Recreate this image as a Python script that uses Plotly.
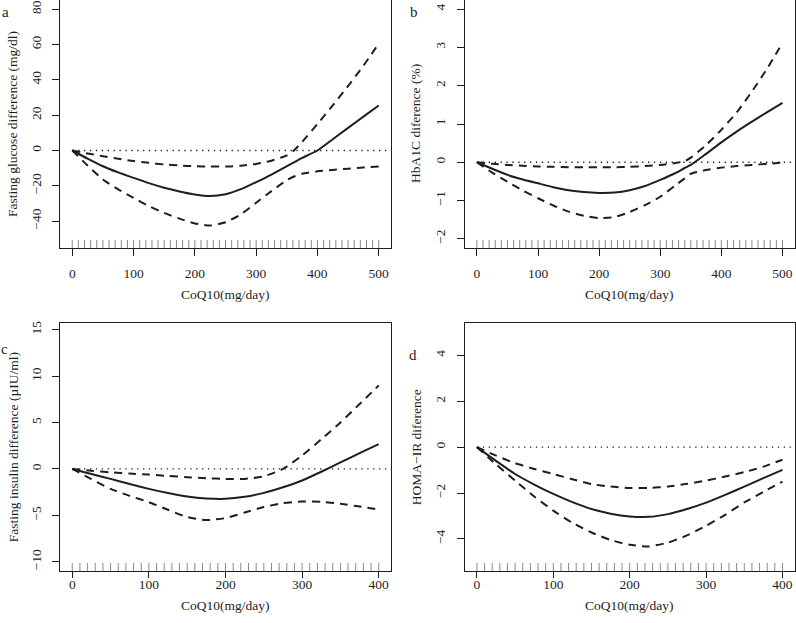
import plotly.graph_objects as go

# ---------------- data ----------------
# Panel a: Fasting glucose difference (mg/dl)
xa = [0, 25, 50, 75, 100, 125, 150, 175, 200, 225, 250, 275, 300, 325, 350, 360, 375, 400, 425, 450, 475, 500]
a_fit = [0, -4.6, -8.9, -12.4, -15.5, -18.5, -21.1, -23.2, -24.9, -25.8, -24.8, -21.9, -17.9, -13.6, -8.9, -7.0, -4.2, 0, 6.4, 12.8, 19.2, 25.5]
a_up = [0, -1.7, -3.2, -4.7, -6.0, -7.0, -7.9, -8.5, -8.9, -9.1, -9.1, -8.6, -7.6, -5.8, -2.8, -0.5, 4.8, 15.0, 25.5, 36.5, 48.0, 60.5]
a_lo = [0, -8.5, -16.4, -22.0, -26.8, -31.5, -35.3, -38.6, -41.3, -42.5, -40.6, -36.2, -29.6, -23.0, -16.8, -15.0, -13.2, -11.8, -11.0, -10.3, -9.6, -9.0]

# Panel b: HbA1C difference (%)
xb = [0, 25, 50, 75, 100, 125, 150, 175, 200, 225, 250, 275, 300, 325, 340, 350, 375, 400, 425, 450, 475, 500]
b_fit = [0, -0.17, -0.33, -0.45, -0.55, -0.65, -0.73, -0.78, -0.80, -0.79, -0.73, -0.62, -0.46, -0.28, -0.15, -0.07, 0.22, 0.52, 0.80, 1.06, 1.31, 1.55]
b_up = [0, -0.04, -0.07, -0.09, -0.11, -0.12, -0.13, -0.13, -0.13, -0.13, -0.12, -0.10, -0.07, -0.02, 0.03, 0.12, 0.45, 0.85, 1.30, 1.85, 2.45, 3.12]
b_lo = [0, -0.27, -0.51, -0.74, -0.94, -1.13, -1.29, -1.40, -1.46, -1.43, -1.30, -1.12, -0.90, -0.60, -0.42, -0.30, -0.20, -0.14, -0.10, -0.07, -0.04, -0.01]

# Panel c: Fasting insulin difference (µIU/ml)
xc = [0, 25, 50, 75, 100, 125, 150, 175, 200, 225, 250, 275, 300, 325, 350, 375, 400]
c_fit = [0, -0.55, -1.07, -1.62, -2.15, -2.60, -2.97, -3.18, -3.22, -3.00, -2.58, -1.98, -1.25, -0.30, 0.70, 1.70, 2.68]
c_up = [0, -0.20, -0.36, -0.50, -0.61, -0.75, -0.90, -1.00, -1.07, -1.07, -0.80, 0.0, 1.45, 3.20, 5.00, 7.00, 9.00]
c_lo = [0, -1.10, -2.15, -2.90, -3.58, -4.40, -5.19, -5.51, -5.30, -4.70, -4.10, -3.69, -3.51, -3.54, -3.76, -4.05, -4.37]

# Panel d: HOMA-IR difference
xd = [0, 25, 50, 75, 100, 125, 150, 175, 200, 225, 250, 275, 300, 325, 350, 375, 400]
d_fit = [0, -0.60, -1.17, -1.63, -2.04, -2.40, -2.70, -2.90, -3.02, -3.04, -2.92, -2.70, -2.42, -2.08, -1.72, -1.35, -0.99]
d_up = [0, -0.37, -0.70, -0.95, -1.17, -1.40, -1.61, -1.72, -1.78, -1.78, -1.72, -1.60, -1.46, -1.28, -1.09, -0.85, -0.55]
d_lo = [0, -0.75, -1.46, -2.15, -2.77, -3.30, -3.72, -4.05, -4.26, -4.33, -4.16, -3.85, -3.43, -2.95, -2.41, -1.95, -1.50]

# rug (observed doses)
rug_ab = [0, 10, 20, 30, 40, 50, 60, 70, 80, 90, 100, 110, 120, 130, 140, 150, 160, 170, 180, 190, 200,
          210, 220, 230, 240, 250, 260, 270, 280, 290, 300, 310, 320, 330, 340, 350, 360, 370, 380, 390, 400,
          410, 420, 430, 440, 450, 460, 470, 480, 490, 500]
rug_cd = [0, 10, 20, 30, 40, 50, 60, 70, 80, 90, 100, 110, 120, 130, 140, 150, 160, 170, 180, 190, 200,
          210, 220, 230, 240, 250, 260, 270, 280, 290, 300, 310, 320, 330, 340, 350, 360, 370, 380, 390, 400]

panel_letters = ["a", "b", "c", "d"]
y_titles = ["Fasting glucose difference (mg/dl)", "HbA1C diference (%)",
            "Fasting insulin difference (µIU/ml)", "HOMA−IR diference"]
x_title = "CoQ10(mg/day)"
x_ticks_ab = [0, 100, 200, 300, 400, 500]
x_ticks_cd = [0, 100, 200, 300, 400]
y_ticks = [[-40, -20, 0, 20, 40, 60, 80], [-2, -1, 0, 1, 2, 3, 4],
           [-10, -5, 0, 5, 10, 15], [-4, -2, 0, 2, 4]]

# ---------------- layout geometry ----------------
W, H = 796, 623
FONT = "Liberation Serif"
FS = 13.5
INK = "#1e1e1e"

x_ranges = [[-20, 520], [-20, 520], [-16, 416], [-16, 416]]
y_ranges = [[-55.2, 85.2], [-2.24, 4.24], [-11.0, 15.7], [-5.4, 5.4]]
xdom = [[60 / W, 391 / W], [464.7 / W, 794.7 / W], [60 / W, 391 / W], [464.7 / W, 794.7 / W]]
ydom = [[1 - 248 / H, 1.0], [1 - 248 / H, 1.0], [1 - 571 / H, 1 - 323.3 / H], [1 - 571 / H, 1 - 323.3 / H]]
x_standoff = [6, 6, -5, -5]
x_ticklen = [7, 7, 6, 6]

panels = [
    (xa, a_fit, a_up, a_lo, rug_ab, x_ticks_ab),
    (xb, b_fit, b_up, b_lo, rug_ab, x_ticks_ab),
    (xc, c_fit, c_up, c_lo, rug_cd, x_ticks_cd),
    (xd, d_fit, d_up, d_lo, rug_cd, x_ticks_cd),
]

fig = go.Figure()
shapes = []
annotations = []

for i, (xs, fit, up, lo, rug, xt) in enumerate(panels):
    n = i + 1
    xref = "x" if n == 1 else f"x{n}"
    yref = "y" if n == 1 else f"y{n}"
    # reference dotted line at 0
    fig.add_trace(go.Scatter(x=[0, x_ranges[i][1]], y=[0, 0], mode="lines", xaxis=xref, yaxis=yref,
                             line=dict(color=INK, width=1.3, dash="1.3px,4.6px"), showlegend=False, hoverinfo="skip"))
    for ys in (up, lo):
        fig.add_trace(go.Scatter(x=xs, y=ys, mode="lines", xaxis=xref, yaxis=yref,
                                 line=dict(color=INK, width=2, dash="8px,6px", shape="spline", smoothing=0.5),
                                 showlegend=False))
    fig.add_trace(go.Scatter(x=xs, y=fit, mode="lines", xaxis=xref, yaxis=yref,
                             line=dict(color=INK, width=2, shape="spline", smoothing=0.5), showlegend=False))
    # rug
    for r in rug:
        shapes.append(dict(type="line", xref=xref, yref=f"{yref} domain", x0=r, x1=r, y0=0, y1=8 / 248,
                           line=dict(color="#8a8a8a", width=1)))

    axkey = "xaxis" if n == 1 else f"xaxis{n}"
    aykey = "yaxis" if n == 1 else f"yaxis{n}"
    common = dict(showline=True, linecolor=INK, linewidth=1, mirror=True, showgrid=False, zeroline=False,
                  ticks="outside", tickwidth=1, tickcolor=INK, automargin=False,
                  tickfont=dict(family=FONT, size=FS, color=INK), fixedrange=True)
    fig.update_layout(**{
        axkey: dict(domain=xdom[i], range=x_ranges[i], anchor=yref, tickvals=xt, ticklen=x_ticklen[i],
                    ticklabelstandoff=x_standoff[i], **common),
        aykey: dict(domain=ydom[i], range=y_ranges[i], anchor=xref, tickvals=y_ticks[i],
                    ticktext=[str(v).replace("-", "−") for v in y_ticks[i]], ticklen=7,
                    tickangle=-90, ticklabelstandoff=6, **common),
    })

    x0p, x1p = xdom[i]
    y0p, y1p = ydom[i]
    # x title
    xt_px = 295 if i < 2 else 605
    annotations.append(dict(text=x_title, x=(x0p + x1p) / 2, y=1 - xt_px / H, xref="paper", yref="paper",
                            showarrow=False, xanchor="center", yanchor="middle",
                            font=dict(family=FONT, size=FS, color=INK)))
    # y title
    ytx_px = 13 if i % 2 == 0 else 416
    annotations.append(dict(text=y_titles[i], x=ytx_px / W, y=(y0p + y1p) / 2, xref="paper", yref="paper",
                            showarrow=False, xanchor="center", yanchor="middle", textangle=-90,
                            font=dict(family=FONT, size=FS, color=INK)))

# panel letters
letter_pos = [(5, 12), (414, 12), (4, 349), (413, 355)]
for (lx, ly), lt in zip(letter_pos, panel_letters):
    annotations.append(dict(text=lt, x=lx / W, y=1 - ly / H, xref="paper", yref="paper", showarrow=False,
                            xanchor="center", yanchor="middle", font=dict(family=FONT, size=15, color=INK)))

fig.update_layout(width=W, height=H, margin=dict(l=0, r=0, t=0, b=0),
                  paper_bgcolor="white", plot_bgcolor="white",
                  shapes=shapes, annotations=annotations, showlegend=False)

fig.write_html("out.html", config={"displayModeBar": False},
               post_script="document.body.style.margin='0';document.body.style.overflow='hidden';")
